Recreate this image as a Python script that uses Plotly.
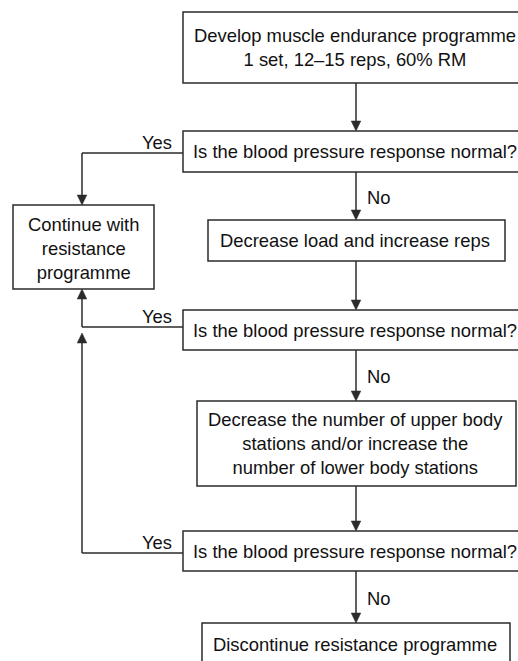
import plotly.graph_objects as go

W, H = 518, 661

# ---- Flowchart content ----
box_texts = [
    "Develop muscle endurance programme<br>1 set, 12–15 reps, 60% RM",
    "Is the blood pressure response normal?",
    "Decrease load and increase reps",
    "Is the blood pressure response normal?",
    "Decrease the number of upper body<br>stations and/or increase the<br>number of lower body stations",
    "Is the blood pressure response normal?",
    "Discontinue resistance programme",
]
side_text = "Continue with<br>resistance<br>programme"
yes_label = "Yes"
no_label = "No"
decision_idx = [1, 3, 5]

# ---- Layout geometry (pixel units on the hidden axes) ----
box_x0 = [183, 183, 208, 183, 197, 183, 202]
box_x1 = [529, 529, 505, 529, 516, 529, 510]
box_y0 = [12, 131, 220, 310, 401, 531, 623]
box_y1 = [83, 172, 261, 350, 486, 571, 667]
side_x0, side_x1, side_y0, side_y1 = 13, 154, 205, 289
spine_x = 356
text_x = 355
branch_x = 82
yes_y = [153, 327, 553]
yes_end = [side_y0, side_y1, 333]   # where each Yes branch arrow tip lands

LINE = "#2b2b2b"
LW = 1.5
FONT = dict(family="Liberation Sans, Arial, Helvetica, sans-serif", size=18.4, color="#111111")
AH_W, AH_L = 4.8, 10

fig = go.Figure()
shapes = []
annotations = []


def arrowhead(x, y, direction):
    # direction: +1 pointing down (tip at y), -1 pointing up
    b = y - direction * AH_L
    return dict(type="path", xref="x", yref="y",
                path=f"M {x - AH_W},{b} L {x + AH_W},{b} L {x},{y} Z",
                fillcolor=LINE, line=dict(color=LINE, width=0.5), layer="above")


def seg(x0, y0, x1, y1):
    return dict(type="line", xref="x", yref="y", x0=x0, y0=y0, x1=x1, y1=y1,
                line=dict(color=LINE, width=LW), layer="above")


# boxes
for i, t in enumerate(box_texts):
    shapes.append(dict(type="rect", xref="x", yref="y",
                       x0=box_x0[i], x1=box_x1[i], y0=box_y0[i], y1=box_y1[i],
                       line=dict(color=LINE, width=LW), fillcolor="white", layer="below"))
    cy = (box_y0[i] + box_y1[i]) / 2
    if i == len(box_texts) - 1:
        cy -= 1
    annotations.append(dict(x=text_x, y=cy, xref="x", yref="y", text=t,
                            showarrow=False, font=FONT, align="center",
                            xanchor="center", yanchor="middle"))

shapes.append(dict(type="rect", xref="x", yref="y",
                   x0=side_x0, x1=side_x1, y0=side_y0, y1=side_y1,
                   line=dict(color=LINE, width=LW), fillcolor="white", layer="below"))
annotations.append(dict(x=(side_x0 + side_x1) / 2, y=(side_y0 + side_y1) / 2 + 1,
                        xref="x", yref="y", text=side_text, showarrow=False,
                        font=FONT, align="center"))

# spine arrows between consecutive boxes
for i in range(len(box_texts) - 1):
    y0, y1 = box_y1[i], box_y0[i + 1]
    shapes.append(seg(spine_x, y0, spine_x, y1 - 2))
    shapes.append(arrowhead(spine_x, y1, 1))
    if i in decision_idx:
        annotations.append(dict(x=spine_x + 9, y=(y0 + y1) / 2 + 1, xref="x", yref="y",
                                text=no_label, showarrow=False, font=FONT,
                                xanchor="left", yanchor="middle"))

# Yes branches
for k, d in enumerate(decision_idx):
    yy = yes_y[k]
    tip = yes_end[k]
    direction = 1 if tip > yy else -1
    shapes.append(seg(box_x0[d], yy, branch_x, yy))
    shapes.append(seg(branch_x, yy, branch_x, tip - direction * 2))
    shapes.append(arrowhead(branch_x, tip, direction))
    annotations.append(dict(x=174, y=yy - 11, xref="x", yref="y", text=yes_label,
                            showarrow=False, font=FONT, xanchor="right", yanchor="middle"))

fig.update_layout(
    width=W, height=H,
    margin=dict(l=0, r=0, t=0, b=0),
    paper_bgcolor="white", plot_bgcolor="white",
    xaxis=dict(range=[0, W], visible=False, fixedrange=True),
    yaxis=dict(range=[H, 0], visible=False, fixedrange=True),
    shapes=shapes, annotations=annotations, showlegend=False,
)

fig.write_html("out.html", config={"displayModeBar": False},
               post_script="document.body.style.margin='0';document.body.style.overflow='hidden';")
